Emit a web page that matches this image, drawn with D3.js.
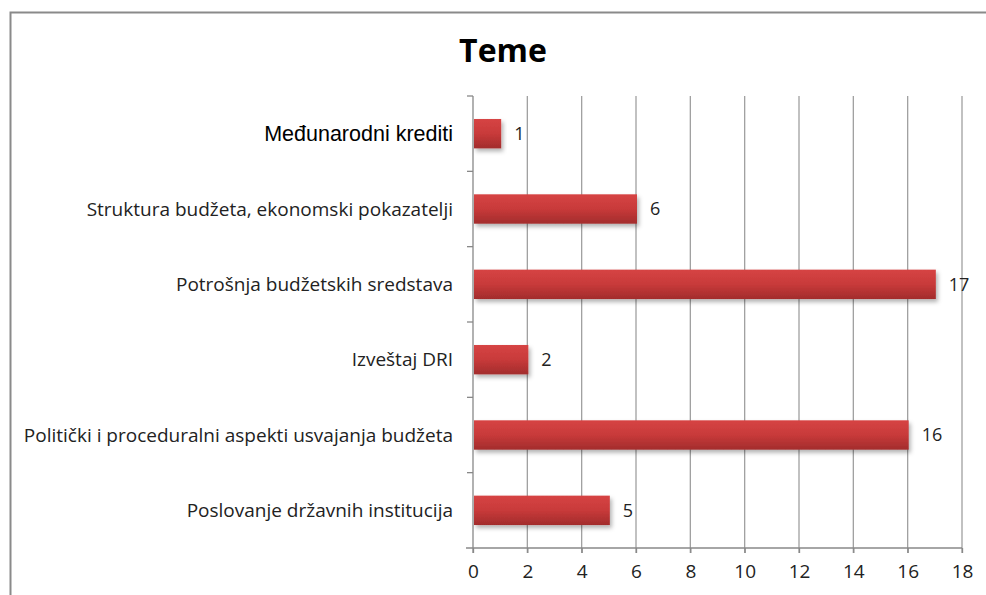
<!DOCTYPE html>
<html>
<head>
  <meta charset="UTF-8">
  <style>
    body { margin: 0; background: #fff; }
    svg { display: block; }
    text { font-family: "Open Sans", "Noto Sans", sans-serif; fill: #222; }
  </style>
</head>
<body>
  <svg width="986" height="595"></svg>
  <script src="https://d3js.org/d3.v7.min.js"></script>
  <script>
    // podaci
    const categories = [
      'Međunarodni krediti',
      'Struktura budžeta, ekonomski pokazatelji',
      'Potrošnja budžetskih sredstava',
      'Izveštaj DRI',
      'Politički i proceduralni aspekti usvajanja budžeta',
      'Poslovanje državnih institucija'
    ];
    const values = [1, 6, 17, 2, 16, 5];
    const xTicks = [0, 2, 4, 6, 8, 10, 12, 14, 16, 18];

    const svg = d3.select('svg');
    const plotLeft = 473, plotRight = 962, plotTop = 96, plotBottom = 548;

    // okvir
    svg.append('rect')
      .attr('x', 10.5).attr('y', 12.5)
      .attr('width', 1000).attr('height', 620)
      .attr('fill', 'none').attr('stroke', '#8a8a8a').attr('stroke-width', 2);

    const defs = svg.append('defs');
    const grad = defs.append('linearGradient')
      .attr('id', 'bar').attr('x1', 0).attr('y1', 0).attr('x2', 0).attr('y2', 1);
    grad.append('stop').attr('offset', '0%').attr('stop-color', '#d64444');
    grad.append('stop').attr('offset', '50%').attr('stop-color', '#c83a3a');
    grad.append('stop').attr('offset', '100%').attr('stop-color', '#a22c2c');
    const shadow = defs.append('filter').attr('id', 'shadow')
      .attr('x', '-10%').attr('y', '-20%').attr('width', '130%').attr('height', '160%');
    shadow.append('feDropShadow')
      .attr('dx', 2).attr('dy', 3).attr('stdDeviation', 2)
      .attr('flood-color', '#000').attr('flood-opacity', 0.3);

    const x = d3.scaleLinear().domain([0, 18]).range([plotLeft, plotRight]);
    const y = d3.scaleBand().domain(categories).range([plotTop, plotBottom]).paddingInner(0.61).paddingOuter(0.305);
    const yEdges = d3.scaleBand().domain(categories).range([plotTop, plotBottom]);

    // mreža
    svg.append('g').selectAll('line').data(xTicks.slice(1)).enter().append('line')
      .attr('x1', d => x(d)).attr('x2', d => x(d))
      .attr('y1', plotTop).attr('y2', plotBottom + 5)
      .attr('stroke', '#a0a0a0').attr('stroke-width', 1.3);

    // x osa
    const xAxis = svg.append('g')
      .attr('transform', `translate(0,${plotBottom})`)
      .call(d3.axisBottom(x).tickValues(xTicks).tickSize(5).tickSizeOuter(0).tickPadding(12));
    xAxis.select('.domain').remove();
    xAxis.selectAll('.tick line').attr('stroke', '#888').attr('stroke-width', 1.3);
    xAxis.selectAll('.tick text').attr('font-size', 19).attr('fill', '#222')
      .attr('font-family', '"Open Sans", "Noto Sans", sans-serif');
    svg.append('line')
      .attr('x1', plotLeft - 7).attr('x2', plotRight).attr('y1', plotBottom).attr('y2', plotBottom)
      .attr('stroke', '#888').attr('stroke-width', 1.3);

    // y osa
    svg.append('line')
      .attr('x1', plotLeft).attr('x2', plotLeft).attr('y1', plotTop).attr('y2', plotBottom + 5)
      .attr('stroke', '#888').attr('stroke-width', 1.3);
    svg.append('g').selectAll('line').data(categories).enter().append('line')
      .attr('x1', plotLeft - 6).attr('x2', plotLeft)
      .attr('y1', d => yEdges(d)).attr('y2', d => yEdges(d))
      .attr('stroke', '#888').attr('stroke-width', 1.3);

    // stubići
    svg.append('g').selectAll('rect').data(values).enter().append('rect')
      .attr('x', x(0) + 1)
      .attr('y', (d, i) => y(categories[i]))
      .attr('width', d => x(d) - x(0))
      .attr('height', y.bandwidth())
      .attr('fill', 'url(#bar)')
      .attr('filter', 'url(#shadow)');

    // vrednosti
    svg.append('g').selectAll('text').data(values).enter().append('text')
      .attr('x', d => x(d) + 14)
      .attr('y', (d, i) => y(categories[i]) + y.bandwidth() / 2)
      .attr('dy', '0.35em')
      .attr('font-size', 18)
      .text(d => d);

    // nazivi kategorija
    svg.append('g').selectAll('text').data(categories).enter().append('text')
      .attr('x', 453)
      .attr('y', d => y(d) + y.bandwidth() / 2)
      .attr('dy', '0.35em')
      .attr('text-anchor', 'end')
      .attr('font-size', (d, i) => i === 0 ? 21.5 : 19)
      .style('font-family', (d, i) => i === 0 ? '"Liberation Sans", Arial, sans-serif' : null)
      .style('fill', (d, i) => i === 0 ? '#000' : '#222')
      .text(d => d);

    // naslov
    svg.append('text')
      .attr('x', 503).attr('y', 62)
      .attr('text-anchor', 'middle')
      .attr('font-size', 32).attr('font-weight', 'bold')
      .style('fill', '#000')
      .text('Teme');
  </script>
</body>
</html>
